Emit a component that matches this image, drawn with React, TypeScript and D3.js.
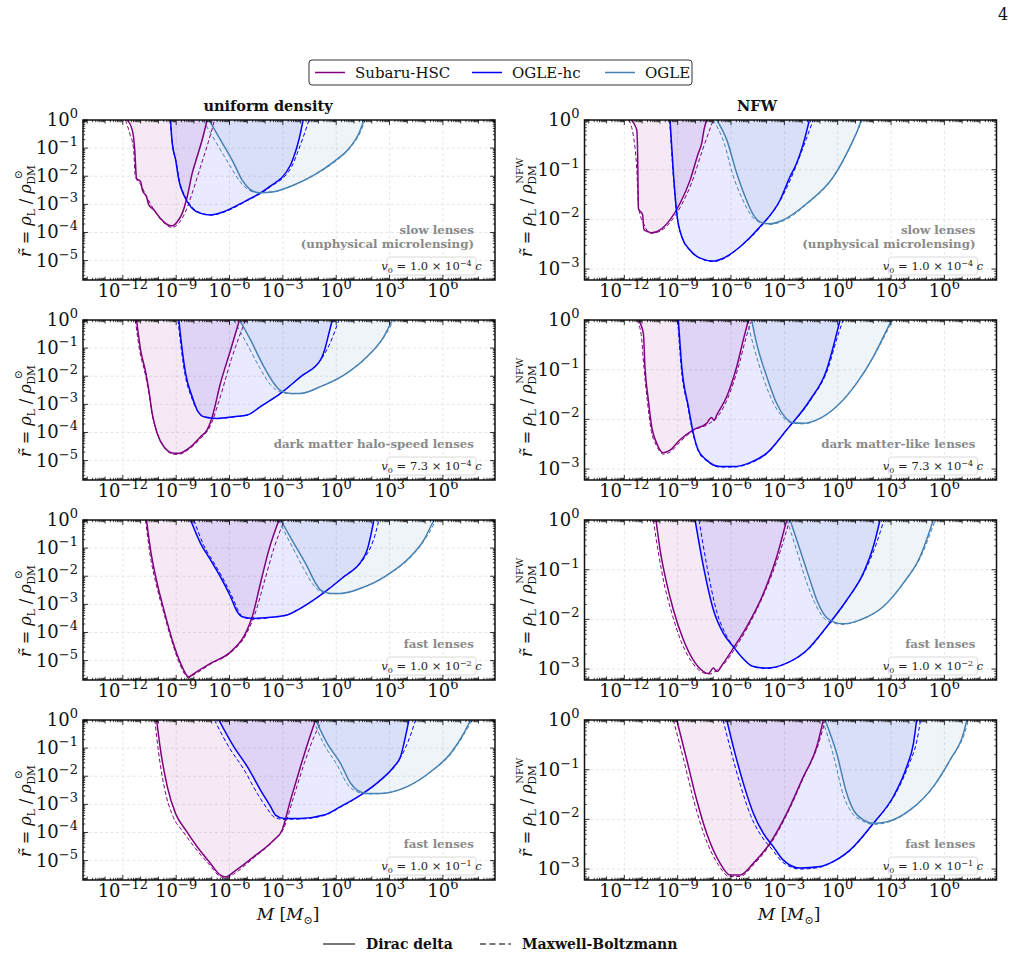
import React from 'react';
import * as d3 from 'd3';

type Pt = [number, number]; // [log10 M/Msun, log10 r]

// ---------- Panel 1: uniform density, slow lenses ----------
const uniSlowSubaru: Pt[] = [[-11.75,0],[-11.47,-0.36],[-11.4,-0.6],[-11.33,-1.07],[-11.23,-2.08],[-11.0,-2.19],[-10.9,-2.49],[-10.67,-2.73],[-10.54,-3.02],[-10.25,-3.2],[-9.88,-3.5],[-9.41,-3.74],[-9.2,-3.76],[-8.94,-3.62],[-8.66,-3.32],[-8.38,-2.73],[-8.1,-1.9],[-7.82,-1.3],[-7.54,-0.71],[-7.26,0]];
const uniSlowSubaruMB: Pt[] = [[-11.85,0],[-11.6,-0.5],[-11.4,-1.0],[-11.3,-2.0],[-11.0,-2.3],[-10.6,-2.8],[-10.2,-3.25],[-9.7,-3.65],[-9.25,-3.82],[-8.9,-3.7],[-8.5,-3.3],[-8.1,-2.6],[-7.6,-1.6],[-7.2,-0.8],[-6.84,0]];
const uniSlowHC: Pt[] = [[-9.32,0],[-9.22,-0.83],[-9.03,-1.42],[-8.85,-2.14],[-8.57,-2.67],[-8.19,-3.08],[-7.63,-3.32],[-7.07,-3.38],[-6.32,-3.26],[-5.19,-2.91],[-3.88,-2.43],[-2.57,-1.6],[-2.38,-1.3],[-2.1,-0.71],[-1.86,0]];
const uniSlowHCMB: Pt[] = [[-9.35,0],[-9.2,-0.9],[-9.0,-1.5],[-8.8,-2.2],[-8.5,-2.72],[-8.1,-3.1],[-7.5,-3.33],[-7.0,-3.38],[-6.2,-3.25],[-5.1,-2.9],[-3.8,-2.42],[-2.5,-1.65],[-2.2,-1.2],[-1.85,-0.6],[-1.53,0]];
const uniSlowOGLE: Pt[] = [[-7.16,0],[-6.51,-0.71],[-5.76,-1.54],[-5.29,-2.14],[-5.0,-2.37],[-4.81,-2.49],[-4.26,-2.59],[-3.51,-2.55],[-2.38,-2.31],[-1.26,-1.96],[-0.13,-1.48],[0.8,-0.95],[1.28,-0.47],[1.56,0]];
const uniSlowOGLEMB: Pt[] = [[-7.5,0],[-6.8,-0.75],[-6.0,-1.6],[-5.4,-2.2],[-5.0,-2.45],[-4.5,-2.58],[-3.6,-2.56],[-2.4,-2.32],[-1.2,-1.95],[0.0,-1.45],[0.9,-0.9],[1.35,-0.45],[1.62,0]];

// ---------- Panel 2: NFW, slow lenses ----------
const nfwSlowSubaru: Pt[] = [[-11.62,0],[-11.3,-0.2],[-11.25,-0.74],[-11.21,-1.78],[-10.97,-1.91],[-10.9,-2.21],[-10.65,-2.25],[-10.46,-2.27],[-9.99,-2.21],[-9.43,-2.01],[-8.87,-1.68],[-8.3,-1.21],[-7.84,-0.67],[-7.65,-0.47],[-7.52,-0.2],[-7.37,0]];
const nfwSlowSubaruMB: Pt[] = [[-11.77,0],[-11.5,-0.3],[-11.3,-1.0],[-11.2,-1.75],[-10.9,-2.1],[-10.5,-2.28],[-10.0,-2.24],[-9.4,-2.05],[-8.8,-1.72],[-8.2,-1.25],[-7.6,-0.6],[-7.0,0]];
const nfwSlowHC: Pt[] = [[-9.43,0],[-9.24,-1.07],[-9.05,-1.88],[-8.77,-2.35],[-8.3,-2.62],[-7.74,-2.78],[-6.99,-2.84],[-6.43,-2.78],[-5.49,-2.55],[-4.37,-2.15],[-3.24,-1.61],[-2.68,-1.14],[-2.31,-0.87],[-1.93,-0.47],[-1.59,0]];
const nfwSlowHCMB: Pt[] = [[-9.45,0],[-9.25,-1.1],[-9.05,-1.9],[-8.75,-2.37],[-8.3,-2.63],[-7.7,-2.79],[-7.0,-2.85],[-6.4,-2.79],[-5.5,-2.56],[-4.3,-2.14],[-3.2,-1.6],[-2.6,-1.15],[-2.1,-0.7],[-1.38,0]];
const nfwSlowOGLE: Pt[] = [[-6.8,0],[-6.24,-0.4],[-5.68,-1.07],[-5.21,-1.54],[-4.74,-1.91],[-4.37,-2.05],[-3.81,-2.09],[-3.06,-2.01],[-1.74,-1.68],[-0.24,-1.14],[0.69,-0.54],[1.26,-0.07],[1.32,0]];
const nfwSlowOGLEMB: Pt[] = [[-7.0,0],[-6.4,-0.45],[-5.9,-1.1],[-5.35,-1.6],[-4.8,-1.95],[-4.3,-2.07],[-3.8,-2.1],[-3.0,-2.02],[-1.7,-1.68],[-0.2,-1.13],[0.72,-0.52],[1.38,0]];

// ---------- Panel 3: uniform, halo-speed lenses ----------
const uniHaloSubaru: Pt[] = [[-11.23,0],[-11.0,-1.07],[-10.72,-1.84],[-10.54,-2.49],[-10.35,-3.32],[-10.07,-4.03],[-9.69,-4.51],[-9.13,-4.74],[-8.85,-4.74],[-8.19,-4.51],[-7.63,-4.15],[-7.26,-3.91],[-6.97,-3.44],[-6.51,-2.25],[-5.94,-1.07],[-5.44,0]];
const uniHaloSubaruMB: Pt[] = [[-11.3,0],[-11.05,-1.1],[-10.75,-1.9],[-10.55,-2.55],[-10.35,-3.35],[-10.05,-4.05],[-9.65,-4.55],[-9.1,-4.78],[-8.8,-4.77],[-8.2,-4.55],[-7.6,-4.2],[-7.1,-3.8],[-6.6,-2.9],[-5.9,-1.4],[-5.1,0]];
const uniHaloHC: Pt[] = [[-8.85,0],[-8.66,-1.07],[-8.47,-1.9],[-8.1,-2.73],[-7.82,-3.2],[-7.44,-3.44],[-6.69,-3.5],[-5.76,-3.44],[-5.0,-3.38],[-4.26,-3.08],[-3.13,-2.61],[-2.01,-2.02],[-0.88,-1.42],[-0.6,-0.95],[-0.41,-0.47],[-0.22,0]];
const uniHaloHCMB: Pt[] = [[-8.9,0],[-8.7,-1.1],[-8.5,-1.95],[-8.12,-2.78],[-7.82,-3.22],[-7.4,-3.46],[-6.7,-3.51],[-5.8,-3.45],[-5.0,-3.38],[-4.2,-3.06],[-3.1,-2.6],[-2.0,-2.02],[-0.85,-1.4],[-0.4,-0.9],[0.15,0]];
const uniHaloOGLE: Pt[] = [[-5.44,0],[-4.82,-0.71],[-4.07,-1.66],[-3.51,-2.25],[-3.13,-2.51],[-2.57,-2.61],[-2.01,-2.61],[-0.88,-2.37],[0.43,-1.96],[1.74,-1.3],[2.68,-0.59],[3.15,0]];
const uniHaloOGLEMB: Pt[] = [[-5.76,0],[-5.1,-0.75],[-4.3,-1.7],[-3.7,-2.3],[-3.2,-2.55],[-2.6,-2.62],[-2.0,-2.61],[-0.9,-2.37],[0.45,-1.95],[1.8,-1.28],[2.75,-0.55],[3.25,0]];

// ---------- Panel 4: NFW, dark matter-like lenses ----------
const nfwDMSubaru: Pt[] = [[-11.21,0],[-10.93,-0.27],[-10.84,-0.94],[-10.65,-1.61],[-10.46,-2.15],[-10.18,-2.48],[-9.81,-2.67],[-9.43,-2.62],[-8.87,-2.41],[-8.12,-2.21],[-7.37,-2.08],[-7.1,-1.96],[-6.95,-2.02],[-6.8,-1.91],[-6.24,-1.54],[-5.68,-0.94],[-5.31,-0.4],[-5.02,0]];
const nfwDMSubaruMB: Pt[] = [[-11.3,0],[-11.05,-0.3],[-10.9,-0.95],[-10.7,-1.65],[-10.5,-2.2],[-10.2,-2.52],[-9.8,-2.7],[-9.4,-2.65],[-8.8,-2.43],[-8.1,-2.22],[-7.3,-2.1],[-6.7,-1.92],[-6.1,-1.5],[-5.55,-0.9],[-5.15,-0.35],[-4.83,0]];
const nfwDMHC: Pt[] = [[-8.96,0],[-8.77,-0.94],[-8.4,-1.74],[-8.12,-2.28],[-7.84,-2.62],[-7.37,-2.82],[-6.62,-2.95],[-5.87,-2.95],[-4.93,-2.87],[-3.99,-2.68],[-2.87,-2.21],[-1.56,-1.61],[-0.62,-1.0],[-0.15,-0.4],[0.13,0]];
const nfwDMHCMB: Pt[] = [[-9.0,0],[-8.8,-0.96],[-8.42,-1.76],[-8.13,-2.3],[-7.84,-2.64],[-7.35,-2.84],[-6.6,-2.96],[-5.85,-2.96],[-4.9,-2.88],[-3.95,-2.68],[-2.85,-2.2],[-1.5,-1.6],[-0.55,-0.98],[-0.05,-0.38],[0.3,0]];
const nfwDMOGLE: Pt[] = [[-4.84,0],[-4.56,-0.47],[-3.99,-1.14],[-3.43,-1.68],[-3.06,-1.91],[-2.49,-2.07],[-1.93,-2.08],[-1.18,-2.01],[-0.06,-1.74],[1.07,-1.27],[2.0,-0.74],[2.76,-0.2],[3.04,0]];
const nfwDMOGLEMB: Pt[] = [[-5.1,0],[-4.75,-0.5],[-4.15,-1.2],[-3.55,-1.72],[-3.1,-1.95],[-2.5,-2.08],[-1.9,-2.09],[-1.15,-2.01],[-0.05,-1.73],[1.1,-1.25],[2.05,-0.72],[2.85,-0.18],[3.12,0]];

// ---------- Panel 5: uniform, fast lenses v0 = 1e-2 c ----------
const uniFast2Subaru: Pt[] = [[-10.67,0],[-10.44,-1.07],[-10.07,-2.25],[-9.69,-3.2],[-9.22,-4.27],[-8.75,-5.1],[-8.29,-5.58],[-8.0,-5.46],[-7.07,-5.1],[-5.94,-4.69],[-5.1,-4.03],[-4.72,-3.44],[-4.26,-2.25],[-3.79,-1.07],[-3.22,0]];
const uniFast2SubaruMB: Pt[] = [[-10.72,0],[-10.5,-1.1],[-10.12,-2.3],[-9.72,-3.25],[-9.25,-4.3],[-8.78,-5.15],[-8.32,-5.6],[-8.0,-5.5],[-7.05,-5.12],[-5.9,-4.7],[-5.05,-4.05],[-4.6,-3.4],[-4.0,-2.1],[-3.5,-1.0],[-2.91,0]];
const uniFast2HC: Pt[] = [[-8.19,0],[-7.63,-0.83],[-7.07,-1.42],[-6.51,-2.02],[-5.94,-2.73],[-5.57,-3.26],[-5.29,-3.44],[-4.63,-3.5],[-3.69,-3.46],[-2.76,-3.38],[-2.01,-3.14],[-0.88,-2.67],[0.43,-2.02],[1.46,-1.42],[1.74,-1.07],[1.93,-0.59],[2.12,0]];
const uniFast2HCMB: Pt[] = [[-8.0,0],[-7.45,-0.9],[-6.9,-1.5],[-6.35,-2.1],[-5.8,-2.8],[-5.45,-3.3],[-5.2,-3.47],[-4.6,-3.52],[-3.7,-3.47],[-2.75,-3.38],[-2.0,-3.14],[-0.85,-2.66],[0.45,-2.0],[1.55,-1.38],[1.95,-0.95],[2.2,-0.5],[2.4,0]];
const uniFast2OGLE: Pt[] = [[-3.13,0],[-2.38,-0.83],[-1.63,-1.66],[-1.16,-2.25],[-0.88,-2.49],[-0.32,-2.61],[0.24,-2.61],[1.37,-2.43],[2.87,-1.96],[4.18,-1.3],[4.93,-0.71],[5.31,-0.24],[5.5,0]];
const uniFast2OGLEMB: Pt[] = [[-3.25,0],[-2.6,-0.8],[-1.85,-1.7],[-1.3,-2.3],[-0.95,-2.52],[-0.35,-2.62],[0.25,-2.62],[1.4,-2.43],[2.9,-1.95],[4.25,-1.28],[5.0,-0.68],[5.45,-0.2],[5.6,0]];

// ---------- Panel 6: NFW, fast lenses v0 = 1e-2 c ----------
const nfwFast2Subaru: Pt[] = [[-10.22,0],[-9.99,-0.6],[-9.62,-1.27],[-9.24,-1.81],[-8.68,-2.41],[-8.12,-2.82],[-7.55,-3.05],[-7.27,-3.09],[-6.99,-2.98],[-6.8,-3.05],[-6.43,-2.88],[-5.87,-2.58],[-5.12,-2.15],[-4.18,-1.48],[-3.43,-0.74],[-2.87,0]];
const nfwFast2SubaruMB: Pt[] = [[-10.37,0],[-10.1,-0.62],[-9.75,-1.3],[-9.35,-1.85],[-8.8,-2.45],[-8.2,-2.86],[-7.6,-3.07],[-7.2,-3.1],[-6.8,-3.02],[-6.4,-2.9],[-5.8,-2.6],[-5.05,-2.15],[-4.1,-1.45],[-3.3,-0.7],[-2.7,0]];
const nfwFast2HC: Pt[] = [[-8.02,0],[-7.55,-0.94],[-6.99,-1.81],[-6.43,-2.28],[-5.87,-2.55],[-5.49,-2.72],[-4.74,-2.95],[-3.99,-2.98],[-2.87,-2.88],[-1.74,-2.62],[-0.62,-2.15],[0.51,-1.61],[1.44,-1.07],[2.0,-0.54],[2.38,0]];
const nfwFast2HCMB: Pt[] = [[-7.8,0],[-7.35,-0.94],[-6.8,-1.85],[-6.25,-2.33],[-5.75,-2.6],[-5.4,-2.76],[-4.7,-2.96],[-3.95,-2.99],[-2.85,-2.88],[-1.7,-2.62],[-0.6,-2.15],[0.55,-1.6],[1.5,-1.05],[2.15,-0.5],[2.6,0]];
const nfwFast2OGLE: Pt[] = [[-2.68,0],[-2.12,-0.6],[-1.56,-1.21],[-1.18,-1.61],[-0.81,-1.88],[-0.24,-2.05],[0.32,-2.09],[1.26,-2.01],[2.57,-1.74],[3.69,-1.27],[4.63,-0.74],[5.19,-0.2],[5.38,0]];
const nfwFast2OGLEMB: Pt[] = [[-2.85,0],[-2.3,-0.62],[-1.75,-1.25],[-1.3,-1.66],[-0.9,-1.92],[-0.3,-2.07],[0.3,-2.1],[1.3,-2.01],[2.6,-1.73],[3.75,-1.25],[4.7,-0.72],[5.3,-0.18],[5.48,0]];

// ---------- Panel 7: uniform, fast lenses v0 = 1e-1 c ----------
const uniFast1Subaru: Pt[] = [[-10.1,0],[-9.88,-1.07],[-9.5,-2.37],[-9.04,-3.32],[-8.47,-3.91],[-7.82,-4.51],[-7.07,-5.1],[-6.51,-5.52],[-6.22,-5.58],[-5.76,-5.4],[-4.63,-4.86],[-3.51,-4.27],[-3.04,-3.91],[-2.57,-2.85],[-2.01,-1.66],[-1.54,-0.71],[-1.16,0]];
const uniFast1SubaruMB: Pt[] = [[-10.2,0],[-10.0,-1.1],[-9.65,-2.45],[-9.2,-3.4],[-8.6,-3.98],[-7.9,-4.58],[-7.1,-5.17],[-6.5,-5.58],[-6.2,-5.62],[-5.7,-5.45],[-4.6,-4.88],[-3.5,-4.28],[-2.95,-3.85],[-2.4,-2.75],[-1.8,-1.55],[-1.25,-0.6],[-0.79,0]];
const uniFast1HC: Pt[] = [[-6.6,0],[-5.76,-0.95],[-5.0,-1.66],[-4.26,-2.49],[-3.69,-3.08],[-3.41,-3.38],[-2.94,-3.5],[-2.01,-3.5],[-0.69,-3.38],[0.24,-3.08],[1.37,-2.67],[2.49,-2.14],[3.24,-1.66],[3.62,-1.3],[3.81,-0.83],[4.09,0]];
const uniFast1HCMB: Pt[] = [[-6.85,0],[-6.0,-1.0],[-5.2,-1.75],[-4.45,-2.6],[-3.85,-3.18],[-3.5,-3.45],[-3.0,-3.53],[-2.0,-3.52],[-0.65,-3.39],[0.3,-3.08],[1.4,-2.66],[2.55,-2.12],[3.35,-1.6],[3.85,-1.05],[4.2,-0.5],[4.46,0]];
const uniFast1OGLE: Pt[] = [[-1.16,0],[-0.51,-0.83],[0.24,-1.54],[0.81,-2.25],[1.18,-2.49],[1.74,-2.61],[2.49,-2.61],[3.99,-2.37],[5.31,-1.84],[6.43,-1.19],[7.18,-0.47],[7.56,0]];
const uniFast1OGLEMB: Pt[] = [[-1.3,0],[-0.7,-0.85],[0.05,-1.6],[0.65,-2.3],[1.1,-2.53],[1.7,-2.63],[2.5,-2.62],[4.0,-2.37],[5.35,-1.83],[6.5,-1.17],[7.25,-0.44],[7.65,0]];

// ---------- Panel 8: NFW, fast lenses v0 = 1e-1 c ----------
const nfwFast1Subaru: Pt[] = [[-9.05,0],[-8.49,-0.8],[-7.93,-1.61],[-7.37,-2.28],[-6.62,-2.88],[-6.06,-3.12],[-5.49,-3.12],[-4.74,-2.88],[-3.81,-2.48],[-2.87,-1.88],[-1.93,-1.14],[-1.18,-0.54],[-0.81,0]];
const nfwFast1SubaruMB: Pt[] = [[-9.24,0],[-8.65,-0.82],[-8.08,-1.64],[-7.5,-2.32],[-6.7,-2.92],[-6.1,-3.15],[-5.5,-3.15],[-4.7,-2.9],[-3.75,-2.48],[-2.8,-1.86],[-1.85,-1.1],[-1.1,-0.5],[-0.7,0]];
const nfwFast1HC: Pt[] = [[-6.24,0],[-5.87,-0.54],[-5.31,-1.27],[-4.74,-1.88],[-4.18,-2.28],[-3.62,-2.55],[-3.06,-2.82],[-2.12,-2.98],[-0.99,-2.95],[-0.43,-2.88],[0.69,-2.62],[2.0,-2.08],[3.13,-1.54],[3.88,-0.94],[4.26,-0.47],[4.44,0]];
const nfwFast1HCMB: Pt[] = [[-6.45,0],[-6.05,-0.56],[-5.48,-1.3],[-4.9,-1.92],[-4.3,-2.33],[-3.7,-2.6],[-3.1,-2.86],[-2.1,-3.0],[-0.95,-2.96],[-0.4,-2.88],[0.72,-2.62],[2.05,-2.07],[3.2,-1.52],[4.0,-0.9],[4.45,-0.42],[4.66,0]];
const nfwFast1OGLE: Pt[] = [[-0.71,0],[-0.06,-0.67],[0.51,-1.48],[0.88,-1.81],[1.44,-2.01],[2.0,-2.08],[2.76,-2.05],[4.07,-1.81],[5.38,-1.34],[6.32,-0.8],[7.07,-0.27],[7.26,0]];
const nfwFast1OGLEMB: Pt[] = [[-0.85,0],[-0.25,-0.7],[0.35,-1.55],[0.78,-1.86],[1.4,-2.03],[2.0,-2.1],[2.8,-2.06],[4.1,-1.81],[5.42,-1.33],[6.38,-0.78],[7.15,-0.25],[7.35,0]];

// ---------- labels ----------
const surveyNames = ['Subaru-HSC', 'OGLE-hc', 'OGLE'];
const surveyColors = ['#800080', '#0000ff', '#4682b4'];
const columnTitles = ['uniform density', 'NFW'];
const xTickExps = [-12, -9, -6, -3, 0, 3, 6];
const yTickExpsUniform = [0, -1, -2, -3, -4, -5];
const yTickExpsNFW = [0, -1, -2, -3];
const regimeLabelsUniform = [['slow lenses', '(unphysical microlensing)'], ['dark matter halo-speed lenses'], ['fast lenses'], ['fast lenses']];
const regimeLabelsNFW = [['slow lenses', '(unphysical microlensing)'], ['dark matter-like lenses'], ['fast lenses'], ['fast lenses']];
const v0Mantissa = ['1.0', '7.3', '1.0', '1.0'];
const v0Exponent = ['−4', '−4', '−2', '−1'];
const distNames = ['Dirac delta', 'Maxwell-Boltzmann'];

const uniformRows = [
  [uniSlowSubaru, uniSlowHC, uniSlowOGLE],
  [uniHaloSubaru, uniHaloHC, uniHaloOGLE],
  [uniFast2Subaru, uniFast2HC, uniFast2OGLE],
  [uniFast1Subaru, uniFast1HC, uniFast1OGLE],
];
const uniformRowsMB = [
  [uniSlowSubaruMB, uniSlowHCMB, uniSlowOGLEMB],
  [uniHaloSubaruMB, uniHaloHCMB, uniHaloOGLEMB],
  [uniFast2SubaruMB, uniFast2HCMB, uniFast2OGLEMB],
  [uniFast1SubaruMB, uniFast1HCMB, uniFast1OGLEMB],
];
const nfwRows = [
  [nfwSlowSubaru, nfwSlowHC, nfwSlowOGLE],
  [nfwDMSubaru, nfwDMHC, nfwDMOGLE],
  [nfwFast2Subaru, nfwFast2HC, nfwFast2OGLE],
  [nfwFast1Subaru, nfwFast1HC, nfwFast1OGLE],
];
const nfwRowsMB = [
  [nfwSlowSubaruMB, nfwSlowHCMB, nfwSlowOGLEMB],
  [nfwDMSubaruMB, nfwDMHCMB, nfwDMOGLEMB],
  [nfwFast2SubaruMB, nfwFast2HCMB, nfwFast2OGLEMB],
  [nfwFast1SubaruMB, nfwFast1HCMB, nfwFast1OGLEMB],
];

// ---------- layout ----------
const W = 1015, H = 957;
const FONT = '"DejaVu Serif", serif';
const colX = [83, 584.5];
const PW = 412, PH = 160;
const rowY = [120, 320, 520, 720];
const X_MIN = -14.24, X_MAX = 8.93;
const Y_MIN_UNI = -5.69, Y_MIN_NFW = -3.22;

function Pow10({ x, y, exp, anchor }: { x: number; y: number; exp: number; anchor: string }) {
  const e = exp < 0 ? '−' + Math.abs(exp) : String(exp);
  return (
    <text x={x} y={y} textAnchor={anchor} fontFamily={FONT} fontSize={18} fill="#111">
      <tspan>10</tspan>
      <tspan dy={-8} fontSize={13}>{e}</tspan>
    </text>
  );
}

function Panel({ col, row }: { col: number; row: number }) {
  const x0 = colX[col], y0 = rowY[row];
  const uniform = col === 0;
  const yMin = uniform ? Y_MIN_UNI : Y_MIN_NFW;
  const xs = d3.scaleLog().domain([10 ** X_MIN, 10 ** X_MAX]).range([x0, x0 + PW]);
  const ys = d3.scaleLog().domain([10 ** yMin, 1]).range([y0 + PH, y0]);
  const curves = (uniform ? uniformRows : nfwRows)[row];
  const curvesMB = (uniform ? uniformRowsMB : nfwRowsMB)[row];
  const line = d3.line<Pt>().x(d => xs(10 ** d[0])).y(d => ys(10 ** d[1])).curve(d3.curveMonotoneX);
  const clipId = `clip-${col}-${row}`;
  const yTicks = uniform ? yTickExpsUniform : yTickExpsNFW;
  const labels = (uniform ? regimeLabelsUniform : regimeLabelsNFW)[row];

  const xMinor: number[] = [];
  for (let k = -15; k <= 9; k++) for (let m = 1; m <= 9; m++) {
    const v = m * 10 ** k;
    if (v >= 10 ** X_MIN && v <= 10 ** X_MAX) xMinor.push(v);
  }
  const yMinor: number[] = [];
  for (let k = -6; k <= 0; k++) for (let m = 1; m <= 9; m++) {
    const v = m * 10 ** k;
    if (v >= 10 ** yMin && v <= 1.0001) yMinor.push(v);
  }
  const tickLen = (v: number, majorSet: number[]) => {
    const lg = Math.log10(v);
    const r = Math.round(lg);
    if (Math.abs(lg - r) < 1e-6) return majorSet.includes(r) ? 5 : 3.5;
    return 2.2;
  };
  const right = x0 + PW, bottom = y0 + PH;
  const ticks: JSX.Element[] = [];
  xMinor.forEach((v, i) => {
    const x = xs(v), L = tickLen(v, xTickExps);
    ticks.push(<line key={'xb' + i} x1={x} x2={x} y1={bottom} y2={bottom - L} stroke="#000" strokeWidth={0.8} />);
    ticks.push(<line key={'xt' + i} x1={x} x2={x} y1={y0} y2={y0 + L} stroke="#000" strokeWidth={0.8} />);
  });
  yMinor.forEach((v, i) => {
    const y = ys(v), L = tickLen(v, yTicks);
    ticks.push(<line key={'yl' + i} x1={x0} x2={x0 + L} y1={y} y2={y} stroke="#000" strokeWidth={0.8} />);
    ticks.push(<line key={'yr' + i} x1={right} x2={right - L} y1={y} y2={y} stroke="#000" strokeWidth={0.8} />);
  });

  const boxR = right - 19, boxL = boxR - 89;
  return (
    <g>
      <defs>
        <clipPath id={clipId}><rect x={x0} y={y0} width={PW} height={PH} /></clipPath>
      </defs>
      <rect x={x0} y={y0} width={PW} height={PH} fill="#fff" />
      <g stroke="#dcdcdc" strokeWidth={0.7} strokeDasharray="3,2.5">
        {xTickExps.map(e => <line key={'gx' + e} x1={xs(10 ** e)} x2={xs(10 ** e)} y1={y0} y2={bottom} />)}
        {yTicks.filter(e => e !== 0).map(e => <line key={'gy' + e} x1={x0} x2={right} y1={ys(10 ** e)} y2={ys(10 ** e)} />)}
      </g>
      <g clipPath={`url(#${clipId})`}>
        {curves.map((c, i) => <path key={'f' + i} d={(line(c) || '') + 'Z'} fill={surveyColors[i]} fillOpacity={0.085} stroke="none" />)}
        {curvesMB.map((c, i) => <path key={'d' + i} d={line(c) || ''} fill="none" stroke={surveyColors[i]} strokeWidth={1} strokeDasharray="4,2.5" />)}
        {curves.map((c, i) => <path key={'s' + i} d={line(c) || ''} fill="none" stroke={surveyColors[i]} strokeWidth={1.5} />)}
      </g>
      {labels.map((t, i) => (
        <text key={'lab' + i} x={right - 21} y={bottom - (labels.length === 2 ? 46 : 32) + i * 13.5} textAnchor="end"
          fontFamily={FONT} fontWeight="bold" fontSize={11.8} fill="#8a8a8a">{t}</text>
      ))}
      <rect x={boxL} y={bottom - 23} width={89} height={18} rx={3} fill="#fff" fillOpacity={0.85} stroke="#d0d0d0" strokeWidth={0.8} />
      <text x={(boxL + boxR) / 2} y={bottom - 10} textAnchor="middle" fontFamily={FONT} fontSize={11.5} fill="#222">
        <tspan fontStyle="italic">v</tspan><tspan dy={2.5} fontSize={8}>0</tspan>
        <tspan dy={-2.5}> = {v0Mantissa[row]} × 10</tspan><tspan dy={-4.5} fontSize={8}>{v0Exponent[row]}</tspan>
        <tspan dy={4.5} fontStyle="italic"> c</tspan>
      </text>
      {ticks}
      <rect x={x0} y={y0} width={PW} height={PH} fill="none" stroke="#111" strokeWidth={1.5} />
      {xTickExps.map(e => <Pow10 key={'xl' + e} x={xs(10 ** e)} y={bottom + 17} exp={e} anchor="middle" />)}
      {yTicks.map(e => <Pow10 key={'yl' + e} x={x0 - 5} y={ys(10 ** e) + 6} exp={e} anchor="end" />)}
    </g>
  );
}

function YLabel({ col, row }: { col: number; row: number }) {
  const cx = col === 0 ? 31 : 532;
  const cy = rowY[row] + 137;
  return (
    <text transform={`translate(${cx},${cy}) rotate(-90)`} textAnchor="start" fontFamily={FONT} fontSize={16} fill="#111">
      <tspan fontStyle="italic">r̃</tspan>
      <tspan> = </tspan>
      <tspan fontStyle="italic">ρ</tspan>
      <tspan dy={4} fontSize={10.5}>L</tspan>
      <tspan dy={-4}> / </tspan>
      <tspan fontStyle="italic">ρ</tspan>
      <tspan dy={4} fontSize={10.5}>DM</tspan>
      {col === 0
        ? <tspan dx={-14} dy={-13} fontSize={11}>⊙</tspan>
        : <tspan dx={-18.5} dy={-13} fontSize={10}>NFW</tspan>}
    </text>
  );
}

function XLabel({ cx }: { cx: number }) {
  return (
    <text x={cx} y={920} textAnchor="middle" fontFamily={FONT} fontSize={17} fill="#111">
      <tspan fontStyle="italic">M</tspan>
      <tspan> [</tspan>
      <tspan fontStyle="italic">M</tspan>
      <tspan dy={4} fontSize={11}>⊙</tspan>
      <tspan dy={-4}>]</tspan>
    </text>
  );
}

export default function App() {
  const legendX = [315, 472, 605];
  return (
    <svg width={W} height={H} viewBox={`0 0 ${W} ${H}`} style={{ display: 'block', position: 'absolute', left: 0, top: 0 }}>
      <rect x={0} y={0} width={W} height={H} fill="#fff" />
      <text x={1003} y={20} fontFamily={FONT} fontSize={16} textAnchor="middle" fill="#111">4</text>
      <rect x={309} y={60} width={383} height={25} rx={3} fill="#fff" stroke="#333" strokeWidth={1} />
      {surveyNames.map((n, i) => (
        <g key={n}>
          <line x1={legendX[i]} x2={legendX[i] + 30} y1={72.5} y2={72.5} stroke={surveyColors[i]} strokeWidth={1.5} />
          <text x={legendX[i] + 40} y={78} fontFamily={FONT} fontSize={15} fill="#111">{n}</text>
        </g>
      ))}
      <text x={268} y={111} textAnchor="middle" fontFamily={FONT} fontWeight="bold" fontSize={14.5} fill="#111">{columnTitles[0]}</text>
      <text x={757} y={111} textAnchor="middle" fontFamily={FONT} fontWeight="bold" fontSize={14.5} fill="#111">{columnTitles[1]}</text>
      {[0, 1, 2, 3].map(r => (
        <g key={r}>
          <Panel col={0} row={r} />
          <Panel col={1} row={r} />
          <YLabel col={0} row={r} />
          <YLabel col={1} row={r} />
        </g>
      ))}
      <XLabel cx={288} />
      <XLabel cx={789} />
      <line x1={323} x2={355} y1={944} y2={944} stroke="#777" strokeWidth={2} />
      <text x={366} y={949} fontFamily={FONT} fontWeight="bold" fontSize={14} fill="#111">{distNames[0]}</text>
      <line x1={480} x2={511} y1={944} y2={944} stroke="#777" strokeWidth={2} strokeDasharray="6,3.5" />
      <text x={522} y={949} fontFamily={FONT} fontWeight="bold" fontSize={14} fill="#111">{distNames[1]}</text>
    </svg>
  );
}
